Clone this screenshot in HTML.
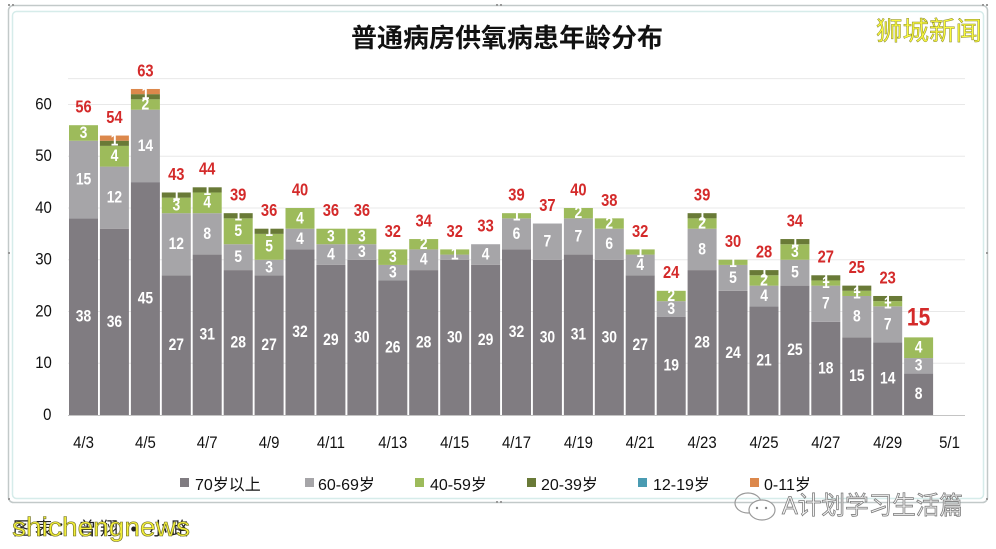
<!DOCTYPE html>
<html><head><meta charset="utf-8">
<style>
html,body{margin:0;padding:0;background:#fff;}
svg{display:block;}
.a{fill:#807c81}.b{fill:#a6a5a8}.c{fill:#9dbb5b}.d{fill:#697a37}.e{fill:#dc884c}
.n text{font-family:"Liberation Sans",sans-serif;transform-box:fill-box;transform-origin:center;transform:scaleX(0.84);}
.w text{fill:#fff;font-size:16.5px;font-weight:bold;text-anchor:middle;dominant-baseline:central;}
.r text{fill:#d42a2a;font-size:17.5px;font-weight:bold;text-anchor:middle;dominant-baseline:central;}
.ax text{fill:#111;font-size:17px;dominant-baseline:central;transform:scaleX(0.88);}
.lg{font-family:"Liberation Sans","Noto Sans CJK SC",sans-serif;font-size:16px;fill:#111;}
</style></head><body>
<svg width="996" height="549" viewBox="0 0 996 549" xmlns="http://www.w3.org/2000/svg">
<rect width="996" height="549" fill="#fff"/>
<!-- frame -->
<rect x="8.5" y="5.5" width="979" height="497" rx="5" fill="#fff" stroke="#c2c9c9" stroke-width="1.5"/>
<rect x="12.5" y="11.5" width="971" height="487" rx="4" fill="none" stroke="#d6ecea" stroke-width="1.5"/>
<g fill="#999"><rect x="8" y="4" width="2" height="2"/><rect x="12" y="4" width="2" height="2"/><rect x="982" y="4" width="2" height="2"/><rect x="986" y="4" width="2" height="2"/><rect x="8" y="498" width="2" height="2"/><rect x="986" y="498" width="2" height="2"/><rect x="496" y="501" width="2" height="2"/><rect x="500" y="501" width="2" height="2"/><rect x="496" y="4" width="2" height="2"/><rect x="500" y="4" width="2" height="2"/><rect x="8" y="252" width="2" height="2"/><rect x="986" y="252" width="2" height="2"/></g>

<!-- title -->
<text x="507" y="38" text-anchor="middle" dominant-baseline="central" font-family="'Liberation Sans','Noto Sans CJK SC',sans-serif" font-size="26" font-weight="bold" fill="#111">普通病房供氧病患年龄分布</text>
<text x="929" y="31" text-anchor="middle" dominant-baseline="central" font-family="'Liberation Sans','Noto Sans CJK SC',sans-serif" font-size="26" fill="#fafa3c" stroke="#8a8a30" stroke-width="0.5" textLength="106" lengthAdjust="spacingAndGlyphs">狮城新闻</text>

<!-- gridlines -->
<g stroke="#e8e8e8" stroke-width="1">
<line x1="68" y1="78.6" x2="965" y2="78.6"/>
<line x1="68" y1="104.5" x2="965" y2="104.5"/>
<line x1="68" y1="156.3" x2="965" y2="156.3"/>
<line x1="68" y1="208" x2="965" y2="208"/>
<line x1="68" y1="259.8" x2="965" y2="259.8"/>
<line x1="68" y1="311.5" x2="965" y2="311.5"/>
<line x1="68" y1="363.3" x2="965" y2="363.3"/>
</g>

<!-- bars (data units) -->
<g transform="translate(0,415) scale(1,-5.175)">
<g transform="translate(69,0)"><rect class="a" y="0" width="29" height="38"/><rect class="b" y="38" width="29" height="15"/><rect class="c" y="53" width="29" height="3"/></g>
<g transform="translate(99.9,0)"><rect class="a" y="0" width="29" height="36"/><rect class="b" y="36" width="29" height="12"/><rect class="c" y="48" width="29" height="4"/><rect class="d" y="52" width="29" height="1"/><rect class="e" y="53" width="29" height="1"/></g>
<g transform="translate(130.9,0)"><rect class="a" y="0" width="29" height="45"/><rect class="b" y="45" width="29" height="14"/><rect class="c" y="59" width="29" height="2"/><rect class="d" y="61" width="29" height="1"/><rect class="e" y="62" width="29" height="1"/></g>
<g transform="translate(161.8,0)"><rect class="a" y="0" width="29" height="27"/><rect class="b" y="27" width="29" height="12"/><rect class="c" y="39" width="29" height="3"/><rect class="d" y="42" width="29" height="1"/></g>
<g transform="translate(192.7,0)"><rect class="a" y="0" width="29" height="31"/><rect class="b" y="31" width="29" height="8"/><rect class="c" y="39" width="29" height="4"/><rect class="d" y="43" width="29" height="1"/></g>
<g transform="translate(223.7,0)"><rect class="a" y="0" width="29" height="28"/><rect class="b" y="28" width="29" height="5"/><rect class="c" y="33" width="29" height="5"/><rect class="d" y="38" width="29" height="1"/></g>
<g transform="translate(254.6,0)"><rect class="a" y="0" width="29" height="27"/><rect class="b" y="27" width="29" height="3"/><rect class="c" y="30" width="29" height="5"/><rect class="d" y="35" width="29" height="1"/></g>
<g transform="translate(285.5,0)"><rect class="a" y="0" width="29" height="32"/><rect class="b" y="32" width="29" height="4"/><rect class="c" y="36" width="29" height="4"/></g>
<g transform="translate(316.4,0)"><rect class="a" y="0" width="29" height="29"/><rect class="b" y="29" width="29" height="4"/><rect class="c" y="33" width="29" height="3"/></g>
<g transform="translate(347.4,0)"><rect class="a" y="0" width="29" height="30"/><rect class="b" y="30" width="29" height="3"/><rect class="c" y="33" width="29" height="3"/></g>
<g transform="translate(378.3,0)"><rect class="a" y="0" width="29" height="26"/><rect class="b" y="26" width="29" height="3"/><rect class="c" y="29" width="29" height="3"/></g>
<g transform="translate(409.2,0)"><rect class="a" y="0" width="29" height="28"/><rect class="b" y="28" width="29" height="4"/><rect class="c" y="32" width="29" height="2"/></g>
<g transform="translate(440.2,0)"><rect class="a" y="0" width="29" height="30"/><rect class="b" y="30" width="29" height="1"/><rect class="c" y="31" width="29" height="1"/></g>
<g transform="translate(471.1,0)"><rect class="a" y="0" width="29" height="29"/><rect class="b" y="29" width="29" height="4"/></g>
<g transform="translate(502,0)"><rect class="a" y="0" width="29" height="32"/><rect class="b" y="32" width="29" height="6"/><rect class="c" y="38" width="29" height="1"/></g>
<g transform="translate(532.9,0)"><rect class="a" y="0" width="29" height="30"/><rect class="b" y="30" width="29" height="7"/></g>
<g transform="translate(563.9,0)"><rect class="a" y="0" width="29" height="31"/><rect class="b" y="31" width="29" height="7"/><rect class="c" y="38" width="29" height="2"/></g>
<g transform="translate(594.8,0)"><rect class="a" y="0" width="29" height="30"/><rect class="b" y="30" width="29" height="6"/><rect class="c" y="36" width="29" height="2"/></g>
<g transform="translate(625.7,0)"><rect class="a" y="0" width="29" height="27"/><rect class="b" y="27" width="29" height="4"/><rect class="c" y="31" width="29" height="1"/></g>
<g transform="translate(656.7,0)"><rect class="a" y="0" width="29" height="19"/><rect class="b" y="19" width="29" height="3"/><rect class="c" y="22" width="29" height="2"/></g>
<g transform="translate(687.6,0)"><rect class="a" y="0" width="29" height="28"/><rect class="b" y="28" width="29" height="8"/><rect class="c" y="36" width="29" height="2"/><rect class="d" y="38" width="29" height="1"/></g>
<g transform="translate(718.5,0)"><rect class="a" y="0" width="29" height="24"/><rect class="b" y="24" width="29" height="5"/><rect class="c" y="29" width="29" height="1"/></g>
<g transform="translate(749.5,0)"><rect class="a" y="0" width="29" height="21"/><rect class="b" y="21" width="29" height="4"/><rect class="c" y="25" width="29" height="2"/><rect class="d" y="27" width="29" height="1"/></g>
<g transform="translate(780.4,0)"><rect class="a" y="0" width="29" height="25"/><rect class="b" y="25" width="29" height="5"/><rect class="c" y="30" width="29" height="3"/><rect class="d" y="33" width="29" height="1"/></g>
<g transform="translate(811.3,0)"><rect class="a" y="0" width="29" height="18"/><rect class="b" y="18" width="29" height="7"/><rect class="c" y="25" width="29" height="1"/><rect class="d" y="26" width="29" height="1"/></g>
<g transform="translate(842.3,0)"><rect class="a" y="0" width="29" height="15"/><rect class="b" y="15" width="29" height="8"/><rect class="c" y="23" width="29" height="1"/><rect class="d" y="24" width="29" height="1"/></g>
<g transform="translate(873.2,0)"><rect class="a" y="0" width="29" height="14"/><rect class="b" y="14" width="29" height="7"/><rect class="c" y="21" width="29" height="1"/><rect class="d" y="22" width="29" height="1"/></g>
<g transform="translate(904.1,0)"><rect class="a" y="0" width="29" height="8"/><rect class="b" y="8" width="29" height="3"/><rect class="c" y="11" width="29" height="4"/></g>
</g>

<!-- x axis -->
<line x1="68" y1="415.5" x2="965" y2="415.5" stroke="#c4c4c4" stroke-width="1"/>

<!-- segment labels -->
<g class="n w">
<text x="83.5" y="316.7">38</text><text x="83.5" y="179.5">15</text><text x="83.5" y="133">3</text>
<text x="114.4" y="321.9">36</text><text x="114.4" y="197.7">12</text><text x="114.4" y="156.3">4</text><text x="114.4" y="140.7">1</text>
<text x="145.4" y="298.6">45</text><text x="145.4" y="145.9">14</text><text x="145.4" y="104.5">2</text><text x="145.4" y="94.2">1</text>
<text x="176.3" y="345.1">27</text><text x="176.3" y="244.2">12</text><text x="176.3" y="205.4">3</text><text x="176.3" y="195.1">1</text>
<text x="207.2" y="334.8">31</text><text x="207.2" y="233.9">8</text><text x="207.2" y="202.8">4</text><text x="207.2" y="189.9">1</text>
<text x="238.2" y="342.6">28</text><text x="238.2" y="257.2">5</text><text x="238.2" y="231.3">5</text><text x="238.2" y="215.8">1</text>
<text x="269.1" y="345.1">27</text><text x="269.1" y="267.5">3</text><text x="269.1" y="246.8">5</text><text x="269.1" y="231.3">1</text>
<text x="300" y="332.2">32</text><text x="300" y="239.1">4</text><text x="300" y="218.4">4</text>
<text x="330.9" y="340">29</text><text x="330.9" y="254.6">4</text><text x="330.9" y="236.5">3</text>
<text x="361.9" y="337.4">30</text><text x="361.9" y="252">3</text><text x="361.9" y="236.5">3</text>
<text x="392.8" y="347.7">26</text><text x="392.8" y="272.7">3</text><text x="392.8" y="257.2">3</text>
<text x="423.7" y="342.6">28</text><text x="423.7" y="259.8">4</text><text x="423.7" y="244.2">2</text>
<text x="454.7" y="337.4">30</text><text x="454.7" y="254.6">1</text>
<text x="485.6" y="340">29</text><text x="485.6" y="254.6">4</text>
<text x="516.5" y="332.2">32</text><text x="516.5" y="233.9">6</text><text x="516.5" y="215.8">1</text>
<text x="547.4" y="337.4">30</text><text x="547.4" y="241.6">7</text>
<text x="578.4" y="334.8">31</text><text x="578.4" y="236.5">7</text><text x="578.4" y="213.2">2</text>
<text x="609.3" y="337.4">30</text><text x="609.3" y="244.2">6</text><text x="609.3" y="223.5">2</text>
<text x="640.2" y="345.1">27</text><text x="640.2" y="264.9">4</text><text x="640.2" y="252">1</text>
<text x="671.2" y="365.8">19</text><text x="671.2" y="308.9">3</text><text x="671.2" y="296">2</text>
<text x="702.1" y="342.6">28</text><text x="702.1" y="249.4">8</text><text x="702.1" y="223.5">2</text><text x="702.1" y="215.8">1</text>
<text x="733" y="352.9">24</text><text x="733" y="277.9">5</text><text x="733" y="262.3">1</text>
<text x="764" y="360.7">21</text><text x="764" y="296">4</text><text x="764" y="280.5">2</text><text x="764" y="272.7">1</text>
<text x="794.9" y="350.3">25</text><text x="794.9" y="272.7">5</text><text x="794.9" y="252">3</text><text x="794.9" y="241.6">1</text>
<text x="825.8" y="368.4">18</text><text x="825.8" y="303.7">7</text><text x="825.8" y="283">1</text><text x="825.8" y="277.9">1</text>
<text x="856.8" y="376.2">15</text><text x="856.8" y="316.7">8</text><text x="856.8" y="293.4">1</text><text x="856.8" y="288.2">1</text>
<text x="887.7" y="378.8">14</text><text x="887.7" y="324.4">7</text><text x="887.7" y="303.7">1</text><text x="887.7" y="298.6">1</text>
<text x="918.6" y="394.3">8</text><text x="918.6" y="365.8">3</text><text x="918.6" y="347.7">4</text>
</g>

<!-- totals -->
<g class="n r">
<text x="83.5" y="107.2">56</text>
<text x="114.4" y="117.6">54</text>
<text x="145.4" y="71">63</text>
<text x="176.3" y="174.5">43</text>
<text x="207.2" y="169.3">44</text>
<text x="238.2" y="195.2">39</text>
<text x="269.1" y="210.7">36</text>
<text x="300" y="190">40</text>
<text x="330.9" y="210.7">36</text>
<text x="361.9" y="210.7">36</text>
<text x="392.8" y="231.4">32</text>
<text x="423.7" y="221.1">34</text>
<text x="454.7" y="231.4">32</text>
<text x="485.6" y="226.2">33</text>
<text x="516.5" y="195.2">39</text>
<text x="547.4" y="205.5">37</text>
<text x="578.4" y="190">40</text>
<text x="609.3" y="200.4">38</text>
<text x="640.2" y="231.4">32</text>
<text x="671.2" y="272.8">24</text>
<text x="702.1" y="195.2">39</text>
<text x="733" y="241.8">30</text>
<text x="764" y="252.1">28</text>
<text x="794.9" y="221.1">34</text>
<text x="825.8" y="257.3">27</text>
<text x="856.8" y="267.6">25</text>
<text x="887.7" y="278">23</text>
<text x="918.6" y="317" style="font-size:25px">15</text>
</g>

<!-- y axis labels -->
<g class="n ax" text-anchor="end">
<text x="53" y="104.5">60</text>
<text x="53" y="156.3">50</text>
<text x="53" y="208">40</text>
<text x="53" y="259.8">30</text>
<text x="53" y="311.5">20</text>
<text x="53" y="363.3">10</text>
<text x="52" y="415">0</text>
</g>

<!-- x axis labels -->
<g class="n ax" text-anchor="middle">
<text x="83.5" y="443">4/3</text>
<text x="145.4" y="443">4/5</text>
<text x="207.2" y="443">4/7</text>
<text x="269.1" y="443">4/9</text>
<text x="330.9" y="443">4/11</text>
<text x="392.8" y="443">4/13</text>
<text x="454.7" y="443">4/15</text>
<text x="516.5" y="443">4/17</text>
<text x="578.4" y="443">4/19</text>
<text x="640.2" y="443">4/21</text>
<text x="702.1" y="443">4/23</text>
<text x="764" y="443">4/25</text>
<text x="825.8" y="443">4/27</text>
<text x="887.7" y="443">4/29</text>
<text x="949.5" y="443">5/1</text>
</g>

<!-- legend -->
<rect x="180" y="478" width="9" height="9" fill="#807c81"/>
<text class="lg" x="195" y="490">70岁以上</text>
<rect x="305" y="478" width="9" height="9" fill="#a6a5a8"/>
<text class="lg" x="318" y="490">60-69岁</text>
<rect x="415" y="478" width="9" height="9" fill="#9dbb5b"/>
<text class="lg" x="430" y="490">40-59岁</text>
<rect x="527" y="478" width="9" height="9" fill="#697a37"/>
<text class="lg" x="541" y="490">20-39岁</text>
<rect x="638" y="478" width="9" height="9" fill="#4a9bb2"/>
<text class="lg" x="653" y="490">12-19岁</text>
<rect x="750" y="478" width="9" height="9" fill="#dc884c"/>
<text class="lg" x="764" y="490">0-11岁</text>

<!-- bottom watermarks -->
<text x="13" y="535" font-family="'Liberation Sans','Noto Sans CJK SC',sans-serif" font-size="18" fill="#222" textLength="176" lengthAdjust="spacing">图表：曾翔 • 小路</text>
<text x="12" y="536" font-family="'Liberation Sans',sans-serif" font-size="27" fill="#f2ee3a" stroke="#6b6b25" stroke-width="0.6" textLength="178" lengthAdjust="spacingAndGlyphs">shichengnews</text>

<g fill="none" stroke="#9a9a9a" stroke-width="1.2">
<ellipse cx="748" cy="503" rx="13" ry="10"/>
<ellipse cx="762" cy="510" rx="13" ry="10" fill="#fff"/>
</g>
<circle cx="757" cy="508" r="1.2" fill="#888"/><circle cx="766" cy="508" r="1.2" fill="#888"/>
<text x="782" y="514" font-family="'Liberation Sans','Noto Sans CJK SC',sans-serif" font-size="25" fill="#f4f4f4" stroke="#7a7a7a" stroke-width="0.8" textLength="181" lengthAdjust="spacingAndGlyphs">A计划学习生活篇</text>
</svg>
</body></html>
